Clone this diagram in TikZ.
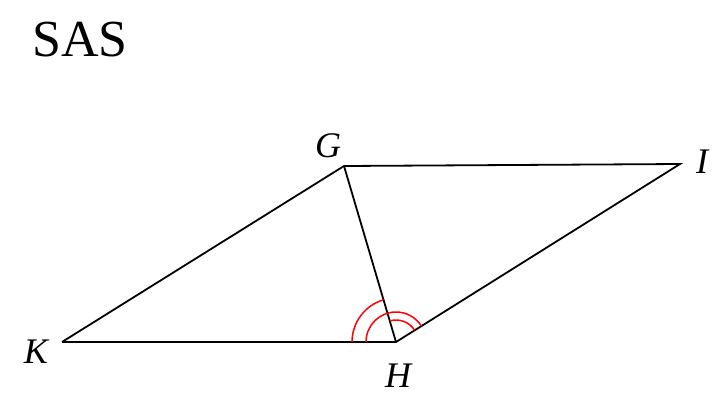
\documentclass[tikz,border=0pt]{standalone}
\usepackage{fontspec}
\setmainfont{Liberation Serif}
\begin{document}
\begin{tikzpicture}[x=1pt,y=-1pt,line width=1.8pt,
  lab/.style={font=\fontsize{36}{40}\selectfont\itshape},
  mk/.style={red,line width=1.5pt}]
\useasboundingbox (0,0) rectangle (728,408);
\coordinate (G) at (344,166);
\coordinate (I) at (680,164);
\coordinate (K) at (62,342);
\coordinate (H) at (396,342);
\draw (K) -- (H) -- (I) -- (G) -- (K);
\draw (G) -- (H);
\draw[mk] ([shift={(-44,0)}]H) arc[start angle=-180,end angle=-106.5,radius=44];
\draw[mk] ([shift={(-30,0)}]H) arc[start angle=-180,end angle=-32,radius=30];
\draw[mk] ([shift={(-106.5:22)}]H) arc[start angle=-106.5,end angle=-32,radius=22];
\node[font=\fontsize{52}{58}\selectfont] (t) at (80,40) {SAS};
\node[lab] (lg) at (328,146) {G};
\node[lab] (li) at (702,162) {I};
\node[lab] (lk) at (36,352) {K};
\node[lab] (lh) at (398,376) {H};
\end{tikzpicture}
\end{document}
